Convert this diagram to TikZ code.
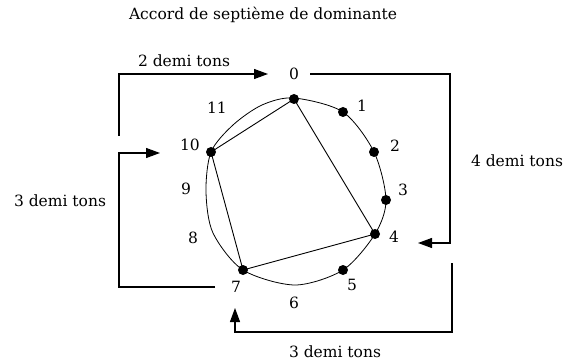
\documentclass[tikz,border=0pt]{standalone}
\usepackage{fontspec}
\setmainfont{DejaVu Serif}
\usetikzlibrary{arrows.meta}
\begin{document}
\begin{tikzpicture}[x=1pt,y=-1pt,
  dot/.style={circle,fill=black,inner sep=0pt,minimum size=10pt},
  lbl/.style={font=\fontsize{15.5}{18}\selectfont,inner sep=0pt},
  edge/.style={line width=0.9pt},
  arr/.style={line width=1.1pt,-{Triangle[length=14pt,width=10pt]}}]
\useasboundingbox[fill=white] (0,0) rectangle (567,363);
\node[lbl] (title) at (263,15) {Accord de septième de dominante};
% circle
\draw[line width=0.8pt] plot[smooth cycle,tension=0.5] coordinates {
 (294,98) (343,112) (374,152) (386,200) (375,234) (343,270) (295,285)
 (243,270) (213,233) (206,192) (211,152) (233,125) (262,105)};
% dots
\node[dot] (n0) at (294,99) {};
\node[dot] (n1) at (343,112) {};
\node[dot] (n2) at (374,152) {};
\node[dot] (n3) at (386,200) {};
\node[dot] (n4) at (375,234) {};
\node[dot] (n5) at (343,270) {};
\node[dot] (n7) at (243,270) {};
\node[dot] (n10) at (211,152) {};
% chord
\draw[edge] (n0.center) -- (n4.center) -- (n7.center) -- (n10.center) -- cycle;
% numbers
\node[lbl] (l0) at (294,74) {0};
\node[lbl] (l1) at (362,106) {1};
\node[lbl] (l2) at (395,146) {2};
\node[lbl] (l3) at (403,190) {3};
\node[lbl] (l4) at (394,237) {4};
\node[lbl] (l5) at (352,285) {5};
\node[lbl] (l6) at (294,303) {6};
\node[lbl] (l7) at (236,287) {7};
\node[lbl] (l8) at (193,238) {8};
\node[lbl] (l9) at (186,189) {9};
\node[lbl] (l10) at (190,145) {10};
\node[lbl] (l11) at (217,108) {11};
% arrows
\coordinate (a1s) at (119,136);
\coordinate (a1t) at (268,74);
\draw[arr] (a1s) |- (a1t);
\node[lbl] (t1) at (184,61) {2 demi tons};
\coordinate (a2s) at (310,74);
\coordinate (a2c) at (450,74);
\coordinate (a2t) at (418,243);
\draw[arr] (a2s) -- (a2c) |- (a2t);
\node[lbl] (t2) at (517,161) {4 demi tons};
\coordinate (a3s) at (215,287);
\coordinate (a3c) at (119,287);
\coordinate (a3t) at (160,153);
\draw[arr] (a3s) -- (a3c) |- (a3t);
\node[lbl] (t3) at (60,201) {3 demi tons};
\coordinate (a4s) at (452,263);
\coordinate (a4c) at (452,332);
\coordinate (a4t) at (235,308);
\draw[arr] (a4s) -- (a4c) -| (a4t);
\node[lbl] (t4) at (335,352) {3 demi tons};
\end{tikzpicture}
\end{document}
